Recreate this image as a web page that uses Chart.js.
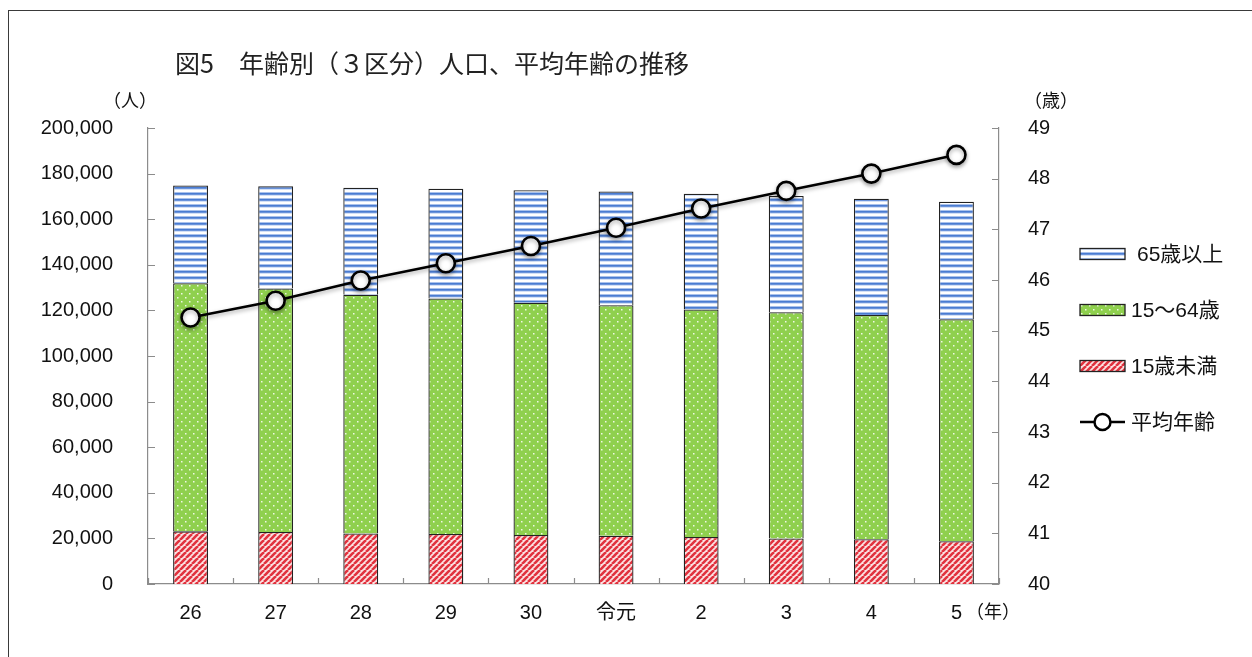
<!DOCTYPE html>
<html lang="ja">
<head>
<meta charset="utf-8">
<title>図5 年齢別（3区分）人口、平均年齢の推移</title>
<script src="https://cdn.jsdelivr.net/npm/chart.js@4.4.1/dist/chart.umd.min.js"></script>
<style>
  html, body { margin: 0; padding: 0; background: #fff; }
  #wrap { position: relative; width: 1252px; height: 657px; overflow: hidden; }
  #frame { position: absolute; left: 8px; top: 10px; right: -4px; bottom: -4px;
           border-top: 1.5px solid #3a3a3a; border-left: 1.5px solid #3a3a3a; }
</style>
</head>
<body>
<div id="wrap">
  <div id="frame"></div>
  <canvas id="chart"></canvas>
</div>
<script>
// data
const years = ['26', '27', '28', '29', '30', '令元', '2', '3', '4', '5'];
const under15 = [23100, 22800, 22200, 21900, 21500, 21200, 20600, 20000, 19600, 18800];
const age15to64 = [108800, 106800, 104700, 103300, 101900, 101100, 99800, 99200, 98400, 97300];
const over65 = [42900, 44900, 46900, 48200, 49300, 49900, 50800, 51000, 51000, 51600];
const avgAge = [45.26, 45.59, 45.99, 46.33, 46.67, 47.03, 47.41, 47.76, 48.10, 48.47];

const LATIN = "'Liberation Sans', 'Noto Sans CJK JP', sans-serif";
const CJK = "'Noto Sans CJK JP', sans-serif";

function makePattern(w, h, paint) {
    const c = document.createElement('canvas');
    c.width = w;
    c.height = h;
    const g = c.getContext('2d');
    paint(g, w, h);
    return g.createPattern(c, 'repeat');
}

// horizontal blue stripes
const bluePat = makePattern(6, 6, (g) => {
    g.fillStyle = '#ffffff'; g.fillRect(0, 0, 6, 6);
    g.fillStyle = '#a9c1ec'; g.fillRect(0, 0, 6, 1);
    g.fillStyle = '#4a7cd1'; g.fillRect(0, 1, 6, 1);
    g.fillStyle = '#6a93db'; g.fillRect(0, 2, 6, 1);
    g.fillStyle = '#d3e0f6'; g.fillRect(0, 3, 6, 1);
});
// green with small white dots
const greenPat = makePattern(8, 8, (g) => {
    g.fillStyle = '#8fd04e'; g.fillRect(0, 0, 8, 8);
    g.fillStyle = 'rgba(255,255,255,0.85)';
    g.fillRect(1, 1, 1.5, 1.5);
    g.fillRect(5, 5, 1.5, 1.5);
});
// red diagonal stripes
const redPat = makePattern(6, 6, (g) => {
    g.fillStyle = '#fbe3e3'; g.fillRect(0, 0, 6, 6);
    g.strokeStyle = '#e1323e';
    g.lineWidth = 2.6;
    [-6, 0, 6].forEach((o) => {
        g.beginPath();
        g.moveTo(o, 6);
        g.lineTo(o + 6, 0);
        g.stroke();
    });
});

// small inward tick marks + extra texts + legend
const extras = {
    id: 'extras',
    beforeDatasetDraw(chart, args) {
        if (args.meta.type === 'line') {
            chart.ctx.save();
            chart.ctx.shadowColor = 'rgba(0,0,0,0.35)';
            chart.ctx.shadowBlur = 4;
            chart.ctx.shadowOffsetY = 2;
        }
    },
    afterDatasetDraw(chart, args) {
        if (args.meta.type === 'line') chart.ctx.restore();
    },
    afterDraw(chart) {
        const ctx = chart.ctx;
        const { x, y, y2 } = chart.scales;
        const area = chart.chartArea;
        ctx.save();
        ctx.strokeStyle = '#8c8c8c';
        ctx.lineWidth = 1.2;
        ctx.beginPath();
        y.ticks.forEach((t, i) => {
            const py = Math.round(y.getPixelForTick(i)) + 0.5;
            ctx.moveTo(area.left, py); ctx.lineTo(area.left + 7, py);
        });
        y2.ticks.forEach((t, i) => {
            const py = Math.round(y2.getPixelForTick(i)) + 0.5;
            ctx.moveTo(area.right, py); ctx.lineTo(area.right - 7, py);
        });
        const step = x.getPixelForValue(1) - x.getPixelForValue(0);
        for (let i = 0; i <= years.length; i++) {
            const px = Math.round(x.getPixelForValue(i) - step / 2) + 0.5;
            ctx.moveTo(px, area.bottom); ctx.lineTo(px, area.bottom - 6);
        }
        ctx.stroke();

        // title and units
        ctx.fillStyle = '#222';
        ctx.textBaseline = 'middle';
        ctx.textAlign = 'left';
        ctx.font = '25px ' + CJK;
        ctx.fillText('図5　年齢別（３区分）人口、平均年齢の推移', 175, 63);
        ctx.fillStyle = '#111';
        ctx.font = '18px ' + CJK;
        ctx.textAlign = 'center';
        ctx.fillText('（人）', 130, 100);
        ctx.fillText('（歳）', 1051, 100);
        ctx.fillText('（年）', 993, 611);

        // legend
        const order = [2, 1, 0, 3];
        ctx.textAlign = 'left';
        ctx.font = '21px ' + LATIN;
        order.forEach((di, k) => {
            const ds = chart.data.datasets[di];
            const cy = 254 + k * 56;
            if (ds.type === 'line') {
                ctx.strokeStyle = '#000';
                ctx.lineWidth = 2.5;
                ctx.beginPath();
                ctx.moveTo(1080, cy); ctx.lineTo(1125, cy);
                ctx.stroke();
                ctx.beginPath();
                ctx.arc(1102.5, cy, 8, 0, Math.PI * 2);
                ctx.fillStyle = '#fff';
                ctx.fill();
                ctx.stroke();
            } else {
                ctx.fillStyle = ds.backgroundColor;
                ctx.fillRect(1080, cy - 5.5, 45, 11);
                ctx.strokeStyle = '#222';
                ctx.lineWidth = 1.3;
                ctx.strokeRect(1080, cy - 5.5, 45, 11);
            }
            ctx.fillStyle = '#111';
            ctx.fillText(ds.label, di === 2 ? 1137 : 1131, cy + 1);
        });
        ctx.restore();
    }
};

const ctx = document.getElementById('chart').getContext('2d');
const chart = new Chart(ctx, {
    data: {
        labels: years,
        datasets: [
            { type: 'bar', label: '15歳未満', data: under15, backgroundColor: redPat,
              borderColor: '#222', borderWidth: 1.3, order: 1 },
            { type: 'bar', label: '15～64歳', data: age15to64, backgroundColor: greenPat,
              borderColor: '#222', borderWidth: 1.3, order: 1 },
            { type: 'bar', label: '65歳以上', data: over65, backgroundColor: bluePat,
              borderColor: '#222', borderWidth: 1.3, order: 1 },
            { type: 'line', label: '平均年齢', data: avgAge, yAxisID: 'y2',
              borderColor: '#000', borderWidth: 2.6, pointRadius: 9, pointHoverRadius: 9,
              pointBackgroundColor: '#fff', pointBorderColor: '#000', pointBorderWidth: 2.6,
              tension: 0, order: 0 }
        ]
    },
    options: {
        responsive: true,
        maintainAspectRatio: false,
        animation: false,
        layout: { padding: { top: 128, left: 0, right: 0, bottom: 0 } },
        datasets: { bar: { categoryPercentage: 1, barPercentage: 0.41 } },
        plugins: { legend: { display: false }, tooltip: { enabled: false }, title: { display: false } },
        scales: {
            x: {
                stacked: true,
                grid: { display: false },
                border: { color: '#8c8c8c', width: 1.2 },
                ticks: { color: '#111', padding: 9, font: { family: LATIN, size: 20 } },
                afterFit: (s) => { s.height = 73; }
            },
            y: {
                stacked: true,
                min: 0, max: 200000,
                grid: { display: false },
                border: { color: '#8c8c8c', width: 1.2 },
                ticks: { stepSize: 20000, color: '#111', padding: 27, font: { family: LATIN, size: 20 },
                         callback: (v) => v.toLocaleString('en-US') },
                afterFit: (s) => { s.width = 148; }
            },
            y2: {
                position: 'right',
                min: 40, max: 49,
                grid: { display: false },
                border: { color: '#8c8c8c', width: 1.2 },
                ticks: { stepSize: 1, color: '#111', padding: 21, font: { family: LATIN, size: 20 } },
                afterFit: (s) => { s.width = 253; }
            }
        }
    },
    plugins: [extras]
});
</script>
</body>
</html>
